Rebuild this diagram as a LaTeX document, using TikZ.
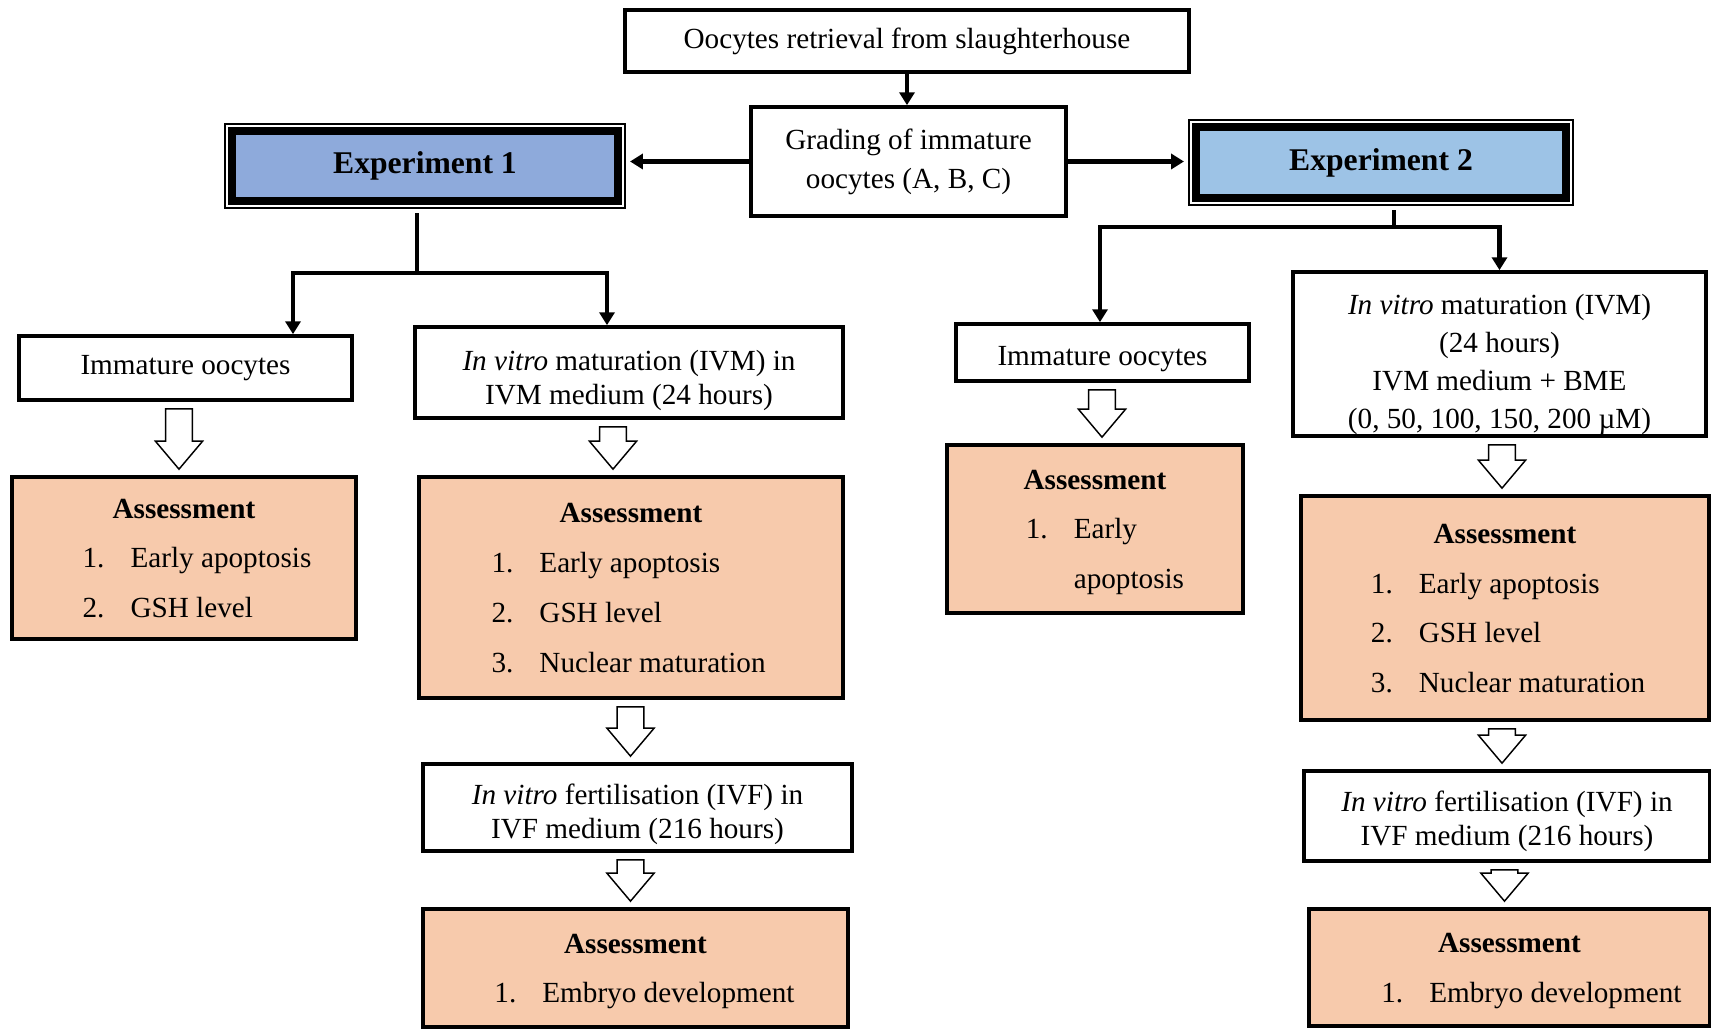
\documentclass[tikz,border=0pt]{standalone}
\usepackage{fontspec}
\setmainfont{Liberation Serif}
\usetikzlibrary{arrows.meta,calc}
\definecolor{expone}{HTML}{8EAADB}
\definecolor{exptwo}{HTML}{9DC3E6}
\definecolor{assess}{HTML}{F7CAAC}
\newcommand{\pxu}{0.411pt}
\newcommand{\topgap}[1]{\rule{0pt}{#1}}
% hollow block arrow between two boxes, #3 = sideways offset
\newcommand{\blockarrow}[3]{%
  \draw[hollow] let \p1=($(#1.south)+(#3,7)$), \p2=($(#2.north)+(#3,-6)$) in
    (\x2-5.5pt,\y1) -- (\x2+5.5pt,\y1) -- (\x2+5.5pt,\y2+11.5pt) -- (\x2+9.7pt,\y2+11.5pt)
    -- (\x2,\y2) -- (\x2-9.7pt,\y2+11.5pt) -- (\x2-5.5pt,\y2+11.5pt) -- cycle;}
% heading and numbered list, #1 = indent of the list
\newcommand{\assesslist}[2][0pt]{%
  \strut\textbf{Assessment}\\\hspace*{#1}\begin{tabular}[t]{@{}l@{\hspace{10.7pt}}l@{}}#2\end{tabular}}

\begin{document}
\begin{tikzpicture}[x=0.411pt, y=-0.411pt,
  box/.style={draw, line width=1.5pt, fill=white, align=center, inner sep=0pt, font=\fontsize{12}{14}\selectfont},
  assess/.style={box, fill=assess, font=\fontsize{12}{20.5}\selectfont},
  expbox/.style={draw, fill=#1, line width=3.3pt, preaction={draw, line width=6.6pt},
    preaction={draw=white, line width=4.9pt}, inner sep=0pt, font=\fontsize{13}{15}\selectfont\bfseries},
  boxsize/.style 2 args={minimum width=#1*\pxu, minimum height=#2*\pxu},
  arrow/.style={-{Triangle[length=5.3pt,width=6.2pt]}, line width=1.8pt},
  hollow/.style={draw, line width=0.6pt, fill=white}
]
  \useasboundingbox (0,0) rectangle (1711,1029);

  % retrieval and grading
  \node[box, boxsize={564}{62}] (top) at (907,41) {Oocytes retrieval from slaughterhouse};
  \node[box, boxsize={315}{109}, font=\fontsize{12}{16}\selectfont] (grade) at (908.5,161.5) {Grading of immature\\oocytes (A, B, C)};
  \draw[arrow] (top.south) -- (top.south |- grade.north);

  % experiments
  \node[expbox=expone, boxsize={386}{70}] (exp1) at (425,166) {Experiment 1};
  \node[expbox=exptwo, boxsize={370}{71}] (exp2) at (1381,162.5) {Experiment 2};
  \draw[arrow, shorten >=3.3pt] (grade.west) -- (grade.west -| exp1.east);
  \draw[arrow, shorten >=3.3pt] (grade.east) -- (grade.east -| exp2.west);

  % Experiment 1 branch
  \node[box, boxsize={333}{64}] (imm1) at (185.5,368) {Immature oocytes};
  \node[box, boxsize={428}{91}] (ivm1) at (629,372.5) {\topgap{15pt}\textit{In vitro} maturation (IVM) in\\IVM medium (24 hours)};
  \node[assess, boxsize={344}{162}] (ass1) at (184,558) {\assesslist[10.7pt]{1. & Early apoptosis\\ 2. & GSH level}};
  \node[assess, boxsize={424}{221}] (ass2) at (631,587.5) {\assesslist[-2pt]{1. & Early apoptosis\\ 2. & GSH level\\ 3. & Nuclear maturation}};
  \node[box, boxsize={429}{87}] (ivf1) at (637.5,807.5) {\topgap{14pt}\textit{In vitro} fertilisation (IVF) in\\IVF medium (216 hours)};
  \node[assess, boxsize={425}{118}] (ass3) at (635.5,968) {\assesslist[7.4pt]{1. & Embryo development}};

  \coordinate (j1) at (417,273);
  \draw[line width=1.8pt] ($(j1 |- exp1.south)+(0,8)$) -- (j1);
  \draw[arrow] (j1) -| ($(imm1.north)+(107.5,0)$);
  \draw[arrow] (j1) -| ($(ivm1.north)+(-22,0)$);

  % Experiment 2 branch
  \node[box, boxsize={293}{57}] (imm2) at (1102.5,352.5) {\topgap{13.5pt}Immature oocytes};
  \node[assess, boxsize={296}{168}] (ass4) at (1095,529) {\assesslist[8.2pt]{1. & Early\\ & apoptosis}};
  \node[box, boxsize={413}{164}, font=\fontsize{12}{15.6}\selectfont] (ivm2) at (1499.5,354) {\topgap{17pt}\textit{In vitro} maturation (IVM)\\(24 hours)\\IVM medium + BME\\(0, 50, 100, 150, 200 µM)};
  \node[assess, boxsize={408}{224}] (ass5) at (1505,608) {\assesslist[2.5pt]{1. & Early apoptosis\\ 2. & GSH level\\ 3. & Nuclear maturation}};
  \node[box, boxsize={406}{90}] (ivf2) at (1507,816) {\topgap{13pt}\textit{In vitro} fertilisation (IVF) in\\IVF medium (216 hours)};
  \node[assess, boxsize={401}{117}] (ass6) at (1509.5,967.5) {\assesslist[18pt]{1. & Embryo development}};

  \coordinate (j2) at (1394,227);
  \draw[line width=1.8pt] ($(j2 |- exp2.south)+(0,8)$) -- (j2);
  \draw[arrow] (j2) -| ($(imm2.north)+(-2.5,0)$);
  \draw[arrow] (j2) -| (ivm2.north);

  % hollow arrows
  \blockarrow{imm1}{ass1}{-5}
  \blockarrow{ivm1}{ass2}{-18}
  \blockarrow{ass2}{ivf1}{-7}
  \blockarrow{ivf1}{ass3}{-5}
  \blockarrow{imm2}{ass4}{7}
  \blockarrow{ivm2}{ass5}{-3}
  \blockarrow{ass5}{ivf2}{-5}
  \blockarrow{ivf2}{ass6}{-5}
\end{tikzpicture}
\end{document}
